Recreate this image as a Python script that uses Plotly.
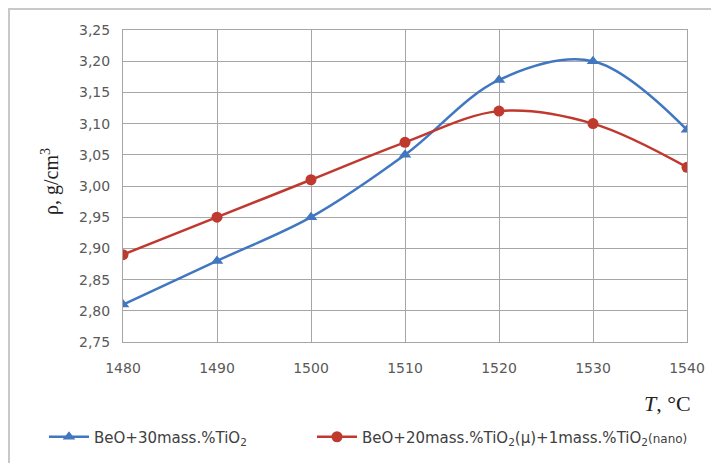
import plotly.graph_objects as go

temps = [1480, 1490, 1500, 1510, 1520, 1530, 1540]
rho_a = [2.81, 2.88, 2.95, 3.05, 3.17, 3.20, 3.09]
rho_b = [2.89, 2.95, 3.01, 3.07, 3.12, 3.10, 3.03]
name_a = "BeO+30mass.%TiO<sub>2</sub>"
name_b = "BeO+20mass.%TiO<sub>2</sub>(μ)+1mass.%TiO<sub>2</sub><span style='font-size:12px'>(nano)</span>"
y_ticks = [2.75, 2.80, 2.85, 2.90, 2.95, 3.00, 3.05, 3.10, 3.15, 3.20, 3.25]
y_labels = [f"{v:.2f}".replace(".", ",") for v in y_ticks]

blue = "#4177C0"
red = "#C0392F"

fig = go.Figure()
fig.add_trace(go.Scatter(x=temps, y=rho_a, name=name_a, mode="lines+markers", legend="legend",
                         line=dict(color=blue, width=2.5, shape="spline", smoothing=1.0),
                         marker=dict(symbol="triangle-up", size=11, color=blue)))
fig.add_trace(go.Scatter(x=temps, y=rho_b, name=name_b, mode="lines+markers", legend="legend2",
                         line=dict(color=red, width=2.5, shape="spline", smoothing=1.0),
                         marker=dict(symbol="circle", size=11, color=red)))

OFF = 8  # page body margin
W, H = 719 - OFF, 463 - OFF
L, R, T, B = 123 - OFF, 32, 30 - OFF, 121
pw = W - L - R
ph = H - T - B

def px(x):  # page x -> paper
    return (x - OFF - L) / pw

def py(y):  # page y -> paper
    return 1 - (y - OFF - T) / ph

def cx(x):  # page x -> container
    return (x - OFF) / W

def cy(y):  # page y -> container
    return 1 - (y - OFF) / H

tick_font = dict(family="DejaVu Sans, sans-serif", size=14, color="#595959")
leg_font = dict(family="DejaVu Sans, sans-serif", size=15, color="#404040")
fig.update_layout(
    width=W, height=H,
    margin=dict(l=L, r=R, t=T, b=B, autoexpand=False),
    paper_bgcolor="white", plot_bgcolor="white",
    xaxis=dict(range=[1480, 1540], tickvals=temps, showgrid=True, gridcolor="#A6A6A6",
               gridwidth=1, showline=True, linecolor="#A6A6A6", mirror=True,
               zeroline=False, tickfont=tick_font, ticks="outside", ticklen=13,
               tickcolor="rgba(0,0,0,0)"),
    yaxis=dict(range=[2.75, 3.25], tickvals=y_ticks, ticktext=y_labels, showgrid=True,
               gridcolor="#A6A6A6", gridwidth=1, showline=True, linecolor="#A6A6A6",
               mirror=True, zeroline=False, tickfont=tick_font, ticks="outside", ticklen=9,
               tickcolor="rgba(0,0,0,0)"),
    legend=dict(orientation="h", xref="container", yref="container",
                x=cx(44), y=cy(437), xanchor="left", yanchor="middle",
                font=leg_font, itemwidth=40, bgcolor="rgba(0,0,0,0)"),
    legend2=dict(orientation="h", xref="container", yref="container",
                 x=cx(312), y=cy(437), xanchor="left", yanchor="middle",
                 font=leg_font, itemwidth=40, bgcolor="rgba(0,0,0,0)"),
    showlegend=True,
    annotations=[
        dict(text="<i>T</i>, °C", x=px(667), y=py(403), xref="paper", yref="paper",
             xanchor="center", yanchor="middle", showarrow=False,
             font=dict(family="Liberation Serif, serif", size=22, color="#222222")),
        dict(text="ρ, g/cm<sup>3</sup>", x=px(50), y=py(182), xref="paper", yref="paper",
             xanchor="center", yanchor="middle", showarrow=False, textangle=-90,
             font=dict(family="Liberation Serif, serif", size=20, color="#222222")),
    ],
)

# outer chart border (top and left visible)
fig.add_shape(type="line", xref="paper", yref="paper",
              x0=px(8), x1=px(730), y0=py(9), y1=py(9),
              line=dict(color="#C8C8C8", width=2))
fig.add_shape(type="line", xref="paper", yref="paper",
              x0=px(9), x1=px(9), y0=py(9), y1=py(470),
              line=dict(color="#C8C8C8", width=2))

fig.write_html("out.html")
